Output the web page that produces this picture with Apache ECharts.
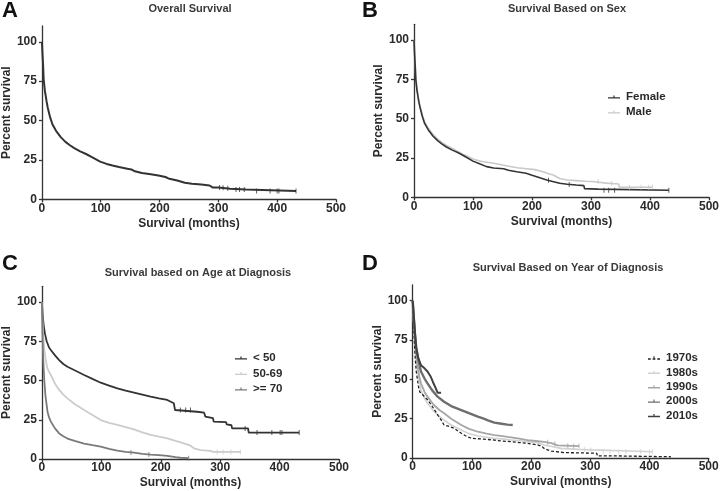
<!DOCTYPE html>
<html>
<head>
<meta charset="utf-8">
<script src="https://cdn.jsdelivr.net/npm/echarts@6/dist/echarts.min.js"></script>
<style>
html,body{margin:0;padding:0;background:#fff;}
#main{width:722px;height:491px;}
</style>
</head>
<body>
<div id="main"></div>
<script>
// ---- Data (months, percent survival) ----
var panelLetters = ['A', 'B', 'C', 'D'];
var panelTitles = ['Overall Survival', 'Survival Based on Sex', 'Survival based on Age at Diagnosis', 'Survival Based on Year of Diagnosis'];
var xTicks = [0, 100, 200, 300, 400, 500];
var yTicks = [0, 25, 50, 75, 100];

var overall = [[0,100],[1,92],[2,85],[3,76],[5,69],[8,62],[10,58],[14,52],[18,47.5],[24,43.5],[32,39.5],[40,36.5],[47,34.5],[55,32.5],[65,30.5],[75,28.8],[85,26.8],[99,24],[110,22.5],[120,21.5],[131,20.5],[145,19.5],[152,19],[158,17.8],[170,16.8],[185,16],[198,15.2],[210,14.2],[215,13.3],[230,12],[243,10.6],[255,10],[271,9.5],[285,8.8],[290,7.6],[300,7.6],[320,6.8],[322,6.3],[347,6.3],[348,5.3],[432,5.3]];
var overallCensored = [[302,7.6],[308,7.4],[316,7],[330,6.3],[336,6.3],[344,6.3],[365,5.3],[388,5.3],[400,5.3],[403,5.3],[432,5.3]];

var sexNames = ['Female', 'Male'];
var female = [[0,100],[1,91],[2,84],[3,75],[5,68],[8,61],[10,57.5],[14,51.5],[18,47],[24,43],[32,39],[40,36],[47,34],[55,32],[65,30],[75,28.3],[85,26.3],[100,23],[110,21.5],[123,19.5],[135,18.6],[152,18.2],[160,17.2],[174,16.3],[190,15.3],[200,14],[208,13.1],[225,11],[235,10],[247,8.9],[260,8.3],[275,7.8],[288,7.4],[289,5.5],[312,5.2],[313,4.5],[432,4.5]];
var femaleCensored = [[228,10.8],[263,8.2],[322,4.5],[330,4.5],[340,4.5],[432,4.5]];
var male = [[0,100],[1,92],[2,86],[3,77],[5,70],[8,62],[10,58.5],[14,52.5],[18,48],[24,44],[32,40],[40,37],[47,35],[55,33],[65,31],[75,29],[85,27],[101,24.2],[115,22.8],[135,21.6],[150,20.5],[163,19.6],[175,18.8],[191,18.2],[205,17.6],[219,16.3],[228,15],[236,14.2],[247,12],[260,11],[275,10.6],[290,10.2],[303,10],[326,9],[347,8.5],[348,6.4],[404,6.4]];
var maleCensored = [[312,10],[335,8.8],[365,6.4],[385,6.4],[398,6.4],[404,6.6]];

var ageNames = ['< 50', '50-69', '>= 70'];
var ageUnder50 = [[0,100],[1,93],[3,85],[5,80],[8,75],[12,71],[15,69.4],[22,66],[29,63],[36,60.5],[43,58.8],[55,56.5],[71,53.5],[85,51],[99,48.6],[113,46.8],[127,45],[141,43.5],[155,42.3],[169,41],[183,39.7],[197,38.6],[211,37.6],[222,35.5],[224,31.2],[261,30.1],[273,29.5],[275,27],[288,26],[289,23.8],[310,23.5],[311,22],[319,21.5],[320,19.5],[347,19.5],[348,16.8],[433,16.8]];
var ageUnder50Censored = [[233,31.2],[242,31.2],[250,31.2],[342,19.5],[362,16.8],[387,16.8],[401,16.8],[404,16.8],[433,16.8]];
var age50to69 = [[0,100],[1,88],[2,80],[4,70],[6,64],[9,58],[12,55.5],[15,53.5],[22,48],[29,44],[36,41],[43,38.6],[55,35],[71,31.2],[85,28],[99,24.8],[113,23],[127,21.7],[141,20.3],[155,18.9],[169,17],[183,15.3],[197,14.2],[211,13.2],[225,11.5],[239,10],[250,8.5],[256,6.8],[267,5.7],[284,5.2],[288,4.5],[334,4.5]];
var age50to69Censored = [[295,4.5],[305,4.5],[318,4.5],[334,4.5]];
var age70plus = [[0,100],[1,80],[2,65],[4,50],[6,40],[9.5,30],[12,26.5],[15,23.8],[22,19.5],[29,16.3],[36,14.5],[43,13],[55,11.5],[71,9.8],[85,8.8],[99,7.9],[113,6.5],[127,5.3],[141,4.6],[155,4],[169,3.3],[183,2.8],[197,2.5],[211,2],[225,1.2],[233,0.8],[247,0.5]];
var age70plusCensored = [[150,4.2],[180,2.9],[247,0.5]];

var decadeNames = ['1970s', '1980s', '1990s', '2000s', '2010s'];
var dec1970 = [[0,100],[2,80],[4,65],[6,55],[8,50],[10,45],[12,42],[14,41],[20,39],[25,37],[31,34],[37,30.5],[43,27],[48,24.2],[53,21],[60,20.3],[70,18.9],[82,15.7],[90,14],[99,12.5],[120,12],[138,11.4],[150,10.8],[166,10.4],[180,9.8],[194,9.3],[211,8.3],[218,7.5],[222,6.1],[228,5.2],[234,4.4],[256,3.4],[280,3.3],[311,3],[312,1.3],[348,1.3],[349,0.8],[436,0.8]];
var dec1980 = [[0,100],[2,84],[4,72],[6,62],[8,56],[11,49],[14,43],[20,38],[25,34.7],[35,30],[45,26.5],[53,24],[65,21],[82,17.8],[95,15.5],[110,14],[125,13.2],[138,12.5],[155,12],[166,11.4],[180,11],[194,10.4],[210,9.8],[222,8.3],[235,7.3],[250,6.1],[265,5.8],[279,5.5],[307,5.1],[316,5],[318,4],[405,4]];
var dec1980Censored = [[290,5.4],[301,5.1],[322,4],[333,4],[348,4],[360,4],[385,4],[400,4],[405,4]];
var dec1990 = [[0,100],[2,86],[4,74],[6,66],[8,60],[11,52],[14,47.5],[20,42],[25,39],[35,34],[45,30.5],[53,28.4],[65,25],[82,21],[95,18.5],[110,16.7],[125,15.5],[138,14.6],[152,13.9],[166,13.1],[180,12.3],[194,11.4],[208,10.8],[222,10.2],[234,9.5],[245,8],[281,7.6]];
var dec1990Censored = [[228,10],[240,9],[262,7.8],[272,7.7],[281,7.6]];
var dec2000 = [[0,100],[2,88],[4,78],[6,70],[8,66],[11,60],[14,55],[20,50.5],[25,47.5],[33,43],[42,39],[53,35.8],[65,33],[82,30.5],[95,28.5],[110,26.3],[120,25],[127,24],[138,22.5],[150,21.8],[160,21.2],[169,21]];
var dec2010 = [[0,100],[2,90],[4,79],[6,70],[9,64],[14,59],[20,57],[25,55],[30,52],[34,48.5],[39,44.3],[42,41.5],[48,41.5]];

// ---- Layout ----
var font = '"Liberation Sans", Arial, sans-serif';
var textColor = '#2a2a2a';
var grids = [
  {left: 39, top: 26, width: 297, height: 173.4},
  {left: 414, top: 24.3, width: 297, height: 173},
  {left: 41, top: 286.3, width: 298, height: 172.7},
  {left: 412.7, top: 285, width: 296, height: 173}
];

function xAxisFor(i) {
  return {
    gridIndex: i, type: 'value', min: 0, max: 500, interval: 100,
    name: 'Survival (months)', nameLocation: 'middle', nameGap: 18,
    nameTextStyle: {fontFamily: font, fontWeight: 'bold', fontSize: 12, color: textColor},
    axisLine: {show: true, onZero: false, lineStyle: {color: '#333', width: 1.3}},
    axisTick: {show: true, length: 3, lineStyle: {color: '#333', width: 1.3}},
    axisLabel: {fontFamily: font, fontWeight: 'bold', fontSize: 12, color: textColor, margin: 3},
    splitLine: {show: false}
  };
}
function yAxisFor(i) {
  return {
    gridIndex: i, type: 'value', min: 0, max: 110,
    name: 'Percent survival', nameLocation: 'middle', nameGap: 26,
    nameTextStyle: {fontFamily: font, fontWeight: 'bold', fontSize: 12, color: textColor},
    axisLine: {show: true, onZero: false, lineStyle: {color: '#333', width: 1.3}},
    axisTick: {show: true, length: 3, customValues: yTicks, lineStyle: {color: '#333', width: 1.3}},
    axisLabel: {fontFamily: font, fontWeight: 'bold', fontSize: 12, color: textColor, margin: 5, customValues: yTicks},
    splitLine: {show: false}
  };
}

function line(name, data, idx, color, width, dashed) {
  return {
    name: name, type: 'line', data: data, xAxisIndex: idx, yAxisIndex: idx,
    showSymbol: false, symbol: 'none', animation: false,
    lineStyle: {color: color, width: width, type: dashed ? [3, 2] : 'solid'},
    itemStyle: {color: color},
    z: 3
  };
}
function ticks(name, data, idx, color) {
  return {
    name: name, type: 'scatter', data: data, xAxisIndex: idx, yAxisIndex: idx,
    symbol: 'rect', symbolSize: [1, 5], animation: false, silent: true,
    itemStyle: {color: color}, z: 4
  };
}

var series = [
  line('Overall', overall, 0, '#333333', 2),
  ticks('Overall', overallCensored, 0, '#333333'),
  line(sexNames[1], male, 1, '#c9c9c9', 1.6),
  ticks(sexNames[1], maleCensored, 1, '#c9c9c9'),
  line(sexNames[0], female, 1, '#333333', 1.6),
  ticks(sexNames[0], femaleCensored, 1, '#333333'),
  line(ageNames[0], ageUnder50, 2, '#333333', 1.8),
  ticks(ageNames[0], ageUnder50Censored, 2, '#333333'),
  line(ageNames[1], age50to69, 2, '#cccccc', 1.8),
  ticks(ageNames[1], age50to69Censored, 2, '#cccccc'),
  line(ageNames[2], age70plus, 2, '#7a7a7a', 1.8),
  ticks(ageNames[2], age70plusCensored, 2, '#7a7a7a'),
  line(decadeNames[1], dec1980, 3, '#d2d2d2', 1.6),
  ticks(decadeNames[1], dec1980Censored, 3, '#d2d2d2'),
  line(decadeNames[2], dec1990, 3, '#a6a6a6', 1.8),
  ticks(decadeNames[2], dec1990Censored, 3, '#a6a6a6'),
  line(decadeNames[0], dec1970, 3, '#222222', 1.3, true),
  line(decadeNames[3], dec2000, 3, '#6e6e6e', 2.4),
  line(decadeNames[4], dec2010, 3, '#404040', 2)
];

var solidIcon = 'path://M0,4.3H12V5.7H0Z M5.4,2.5H6.6V5H5.4Z';
var dashIcon = 'path://M0,4.4H2.6V5.6H0Z M4.4,4.4H7V5.6H4.4Z M8.8,4.4H11.4V5.6H8.8Z M5.2,2.5H6.2V5H5.2Z';
function legendFor(names, left, top, gap) {
  var items = names.map(function (n) { return {name: n, icon: n === '1970s' ? dashIcon : solidIcon}; });
  return {
    data: items, orient: 'vertical', left: left, top: top, padding: 0,
    itemWidth: 12, itemHeight: 10, itemGap: gap, selectedMode: false,
    textStyle: {fontFamily: font, fontWeight: 'bold', fontSize: 11.5, color: textColor, padding: [0, 0, 0, 1]}
  };
}

var titlePos = [[190, 8.5], [567, 8.5], [198, 273], [568, 268]];
var letterPos = [[2, 9], [362, 9], [2, 262], [362, 262]];
var graphics = [];
for (var i = 0; i < 4; i++) {
  graphics.push({type: 'text', left: letterPos[i][0], top: letterPos[i][1] - 9, silent: true,
    style: {text: panelLetters[i], fontFamily: font, fontWeight: 'bold', fontSize: 22, fill: '#111'}});
  graphics.push({type: 'text', x: titlePos[i][0], y: titlePos[i][1], silent: true,
    style: {text: panelTitles[i], fontFamily: font, fontWeight: 'bold', fontSize: 11, fill: '#3a3a3a', align: 'center', verticalAlign: 'middle'}});
}

var chart = echarts.init(document.getElementById('main'), null, {renderer: 'canvas'});
chart.setOption({
  backgroundColor: '#fff',
  animation: false,
  grid: grids,
  xAxis: [xAxisFor(0), xAxisFor(1), xAxisFor(2), xAxisFor(3)],
  yAxis: [yAxisFor(0), yAxisFor(1), yAxisFor(2), yAxisFor(3)],
  legend: [
    legendFor(sexNames, 608, 91, 3),
    legendFor(ageNames, 235, 352, 3.5),
    legendFor(decadeNames, 648, 352, 2.4)
  ],
  graphic: graphics,
  series: series
});
</script>
</body>
</html>
